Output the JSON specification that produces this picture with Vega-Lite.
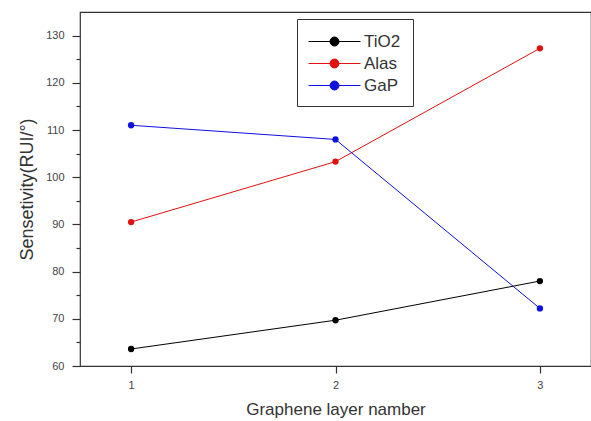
{
  "$schema": "https://vega.github.io/schema/vega-lite/v6.json",
  "width": 511,
  "height": 354,
  "padding": {"left": 80, "top": 12, "right": 0, "bottom": 55},
  "autosize": {"type": "none"},
  "background": "white",
  "config": {
    "view": {"stroke": "#333333", "strokeWidth": 1.2},
    "font": "Liberation Sans"
  },
  "data": {
    "values": [
      {"layer": 1, "series": "TiO2", "sens": 63.6},
      {"layer": 2, "series": "TiO2", "sens": 69.7},
      {"layer": 3, "series": "TiO2", "sens": 78.0},
      {"layer": 1, "series": "Alas", "sens": 90.5},
      {"layer": 2, "series": "Alas", "sens": 103.3},
      {"layer": 3, "series": "Alas", "sens": 127.3},
      {"layer": 1, "series": "GaP", "sens": 111.0},
      {"layer": 2, "series": "GaP", "sens": 108.0},
      {"layer": 3, "series": "GaP", "sens": 72.2}
    ]
  },
  "encoding": {
    "x": {
      "field": "layer", "type": "quantitative",
      "scale": {"domain": [0.75, 3.25], "nice": false, "zero": false},
      "axis": {
        "values": [1, 2, 3], "format": "d", "grid": false,
        "domain": false, "tickColor": "#333333", "tickSize": 7, "tickWidth": 1.2,
        "labelColor": "#444444", "labelFontSize": 11, "labelPadding": 6,
        "title": "Graphene layer namber", "titleFontSize": 17, "titleFontWeight": "normal",
        "titleColor": "#333333", "titlePadding": 11
      }
    },
    "y": {
      "field": "sens", "type": "quantitative",
      "scale": {"domain": [60, 135], "nice": false, "zero": false},
      "axis": {
        "values": [60, 65, 70, 75, 80, 85, 90, 95, 100, 105, 110, 115, 120, 125, 130], "grid": false,
        "labelExpr": "datum.value % 10 === 0 ? datum.label : ''",
        "domain": false, "tickColor": "#333333",
        "tickSize": {"condition": {"test": "datum.value % 10 !== 0", "value": 4}, "value": 8},
        "tickWidth": 1.2,
        "labelColor": "#444444", "labelFontSize": 11, "labelPadding": 8,
        "title": "Sensetivity(RUI/°)", "titleFontSize": 18, "titleFontWeight": "normal",
        "titleColor": "#333333", "titlePadding": 9
      }
    },
    "color": {
      "field": "series", "type": "nominal",
      "scale": {"domain": ["TiO2", "Alas", "GaP"], "range": ["#000000", "#e01010", "#1010e0"]},
      "legend": {
        "title": null, "orient": "none", "legendX": 217, "legendY": 7,
        "direction": "vertical",
        "strokeColor": "#333333", "fillColor": "white", "padding": 12,
        "symbolType": "M-2.6,0L2.6,0M-0.45,0A0.45,0.45 0 1,0 0.45,0A0.45,0.45 0 1,0 -0.45,0Z",
        "symbolSize": 400, "symbolStrokeWidth": 1, "symbolOffset": 15,
        "labelOffset": 19,
        "labelFontSize": 17, "labelColor": "#333333", "rowPadding": 3,
        "offset": 0
      }
    }
  },
  "layer": [
    {"mark": {"type": "line", "strokeWidth": 1}},
    {"mark": {"type": "point", "filled": true, "size": 40, "opacity": 1}}
  ]
}
